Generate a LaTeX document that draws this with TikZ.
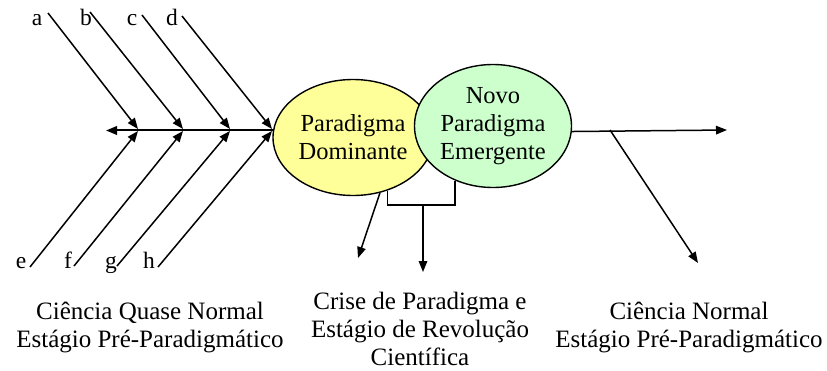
\documentclass[tikz,border=0pt]{standalone}
\usepackage{fontspec}
\setmainfont{Liberation Serif}
\usepackage{tikz}
\usetikzlibrary{arrows.meta,shapes.geometric}
\definecolor{paleyellow}{RGB}{255,255,153}
\definecolor{palegreen}{RGB}{204,255,204}

\begin{document}
\begin{tikzpicture}[x=1pt,y=-1pt,line width=1.5pt,
  arr/.style={-{Triangle[length=11pt,width=8.5pt]}},
  bubble/.style={ellipse,draw,line width=1.4pt,inner sep=0pt,align=center,
    font=\fontsize{24.5}{28}\selectfont},
  letter/.style={anchor=base,inner sep=0pt,font=\fontsize{23.5}{28}\selectfont},
  caption/.style={anchor=north,inner sep=0pt,align=center,
    font=\fontsize{25}{28}\selectfont}]
  \useasboundingbox (0,0) rectangle (827,370);

  \node[bubble,fill=paleyellow,minimum width=160,minimum height=116] (dom) at (353,137.5) {Paradigma\\Dominante};
  \node[bubble,fill=palegreen,minimum width=157,minimum height=123] (emg) at (493,126) {Novo\\Paradigma\\Emergente};

  % spine
  \coordinate (s0) at (106,130);
  \coordinate (s1) at (138,130);
  \coordinate (s2) at (183,130);
  \coordinate (s3) at (230,130);
  \coordinate (s4) at (272,130);
  \draw[arr,line width=2pt] (dom.175) -- (dom.175 -| s0);

  % upper bones
  \node[letter] (la) at (37,25) {a};
  \node[letter] (lb) at (86,25) {b};
  \node[letter] (lc) at (132,25) {c};
  \node[letter] (ld) at (172,25) {d};
  \coordinate (a0) at (48,13);
  \coordinate (b0) at (90,12);
  \coordinate (c0) at (142,15);
  \coordinate (d0) at (182,16);
  \draw[arr] (a0) -- ([yshift=1pt]s1);
  \draw[arr] (b0) -- ([yshift=1pt]s2);
  \draw[arr] (c0) -- ([yshift=1pt]s3);
  \draw[arr] (d0) -- ([yshift=1pt]s4);

  % lower bones
  \node[letter] (le) at (21,268) {e};
  \node[letter] (lf) at (68,268) {f};
  \node[letter] (lg) at (111,268) {g};
  \node[letter] (lh) at (149,268) {h};
  \coordinate (e0) at (30,267);
  \coordinate (f0) at (74,266);
  \coordinate (g0) at (117,266);
  \coordinate (h0) at (158,267);
  \draw[arr] (e0) -- ([yshift=-1pt]s1);
  \draw[arr] (f0) -- ([yshift=-1pt]s2);
  \draw[arr] (g0) -- ([yshift=-1pt]s3);
  \draw[arr] (h0) -- ([yshift=-1pt]s4);

  % crise
  \coordinate (crend) at (358,258);
  \coordinate (br) at (423,205);
  \coordinate (brend) at (423,272);
  \draw[arr] (dom.-64) -- (crend);
  \draw (dom.-57) |- (br) -| (emg.-125);
  \draw[arr] (br) -- (brend);

  % normal science
  \coordinate (r1) at (610,130);
  \coordinate (r2) at (727,130);
  \coordinate (r3) at (698,263);
  \draw[arr] (emg.-4) -- (r2);
  \draw[arr] (r1) -- (r3);

  \node[caption] (quase) at (150,301) {Ciência Quase Normal\\Estágio Pré-Paradigmático};
  \node[caption] (crise) at (420,291) {Crise de Paradigma e\\Estágio de Revolução\\Científica};
  \node[caption] (normal) at (689,301) {Ciência Normal\\Estágio Pré-Paradigmático};
\end{tikzpicture}
\end{document}
